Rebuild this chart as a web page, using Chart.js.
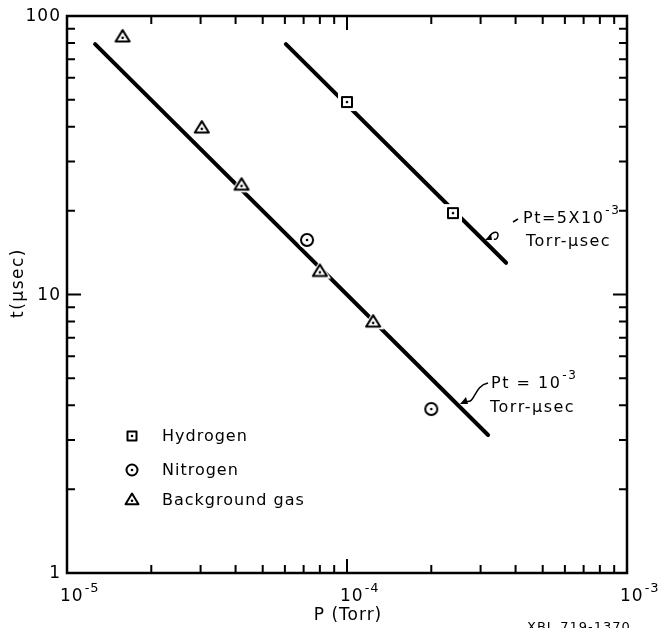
<!DOCTYPE html>
<html>
<head>
<meta charset="utf-8">
<script src="https://cdn.jsdelivr.net/npm/chart.js@4"></script>
<style>
  html, body { margin: 0; padding: 0; background: #fff; }
  #wrap { width: 664px; height: 628px; }
</style>
</head>
<body>
<div id="wrap"><canvas id="chart" width="664" height="628"></canvas></div>
<script>
// values: P in Torr, t in microseconds
const hydrogenP = [1.0e-4, 2.39e-4];
const hydrogenT = [49.1, 19.6];
const nitrogenP = [7.2e-5, 2.0e-4];
const nitrogenT = [15.7, 3.88];
const backgroundP = [1.58e-5, 3.03e-5, 4.2e-5, 8.0e-5, 1.24e-4];
const backgroundT = [84.1, 39.6, 24.7, 12.1, 7.96];

// the two Pt = const lines (end points)
const lineLowP = [1.26e-5, 3.19e-4];
const lineLowT = [79.3, 3.13];
const lineHighP = [6.05e-5, 3.7e-4];
const lineHighT = [79.3, 13.0];

const xTickValues = [1e-5, 1e-4, 1e-3];
const xTickLabels = [['10', '-5'], ['10', '-4'], ['10', '-3']];
const yTickValues = [1, 10, 100];
const yTickLabels = ['1', '10', '100'];
const seriesNames = ['Hydrogen', 'Nitrogen', 'Background gas'];

const FONT = '"DejaVu Sans", sans-serif';

function pts(xs, ys) {
    return xs.map((x, i) => ({ x: x, y: ys[i] }));
}

// marker pictures: white halo (cuts the line like the drawing does), outline, centre dot
function makeMarker(kind, s, halo) {
    const c = document.createElement('canvas');
    c.width = c.height = 26;
    const g = c.getContext('2d');
    const m = 13;
    g.fillStyle = '#fff';
    g.strokeStyle = '#000';
    g.lineWidth = 2;
    g.lineJoin = 'round';
    if (kind === 'square') {
        const hs = s / 2 + halo;
        g.fillRect(m - hs, m - hs, hs * 2, hs * 2);
        g.strokeRect(m - s / 2, m - s / 2, s, s);
    } else if (kind === 'circle') {
        g.beginPath(); g.arc(m, m, s / 2 + halo, 0, Math.PI * 2); g.fill();
        g.beginPath(); g.arc(m, m, s / 2, 0, Math.PI * 2); g.stroke();
    } else {
        const w = s, h = s * 0.82;
        const tri = (k) => {
            g.beginPath();
            g.moveTo(m, m - h * 0.6 * k);
            g.lineTo(m - w / 2 * k, m + h * 0.4 * k);
            g.lineTo(m + w / 2 * k, m + h * 0.4 * k);
            g.closePath();
        };
        tri(1 + halo / 5); g.fill();
        tri(1); g.stroke();
    }
    g.fillStyle = '#000';
    g.beginPath();
    g.arc(m, kind === 'triangle' ? m + s * 0.06 : m, 1.3, 0, Math.PI * 2);
    g.fill();
    return c;
}

const markSquare = makeMarker('square', 10, 4);
const markCircle = makeMarker('circle', 12, 3);
const markTriangle = makeMarker('triangle', 14, 3);
const legendMarks = [makeMarker('square', 9, 0), makeMarker('circle', 11, 0), makeMarker('triangle', 13, 0)];

function logTicks(min, max) {
    const out = [];
    for (let e = Math.floor(Math.log10(min)); e <= Math.ceil(Math.log10(max)); e++) {
        for (let k = 1; k <= 9; k++) {
            const v = k * Math.pow(10, e);
            if (v >= min * 0.999 && v <= max * 1.001) out.push({ v: v, major: k === 1 });
        }
    }
    return out;
}

function withSpacing(ctx, sp) {
    if ('letterSpacing' in ctx) ctx.letterSpacing = sp;
}

// text with a raised exponent
function supText(ctx, base, sup, x, y, size, supSize, rise) {
    ctx.font = size + 'px ' + FONT;
    ctx.textAlign = 'left';
    ctx.textBaseline = 'alphabetic';
    ctx.fillText(base, x, y);
    const w = ctx.measureText(base).width;
    ctx.font = supSize + 'px ' + FONT;
    ctx.fillText(sup, x + w + 1, y - rise);
}

const decorations = {
    id: 'decorations',
    afterDraw(chart) {
        const ctx = chart.ctx;
        const a = chart.chartArea;
        const xs = chart.scales.x, ys = chart.scales.y;
        ctx.save();
        ctx.strokeStyle = '#000';
        ctx.fillStyle = '#000';

        // frame
        ctx.lineWidth = 2.5;
        ctx.strokeRect(a.left, a.top, a.right - a.left, a.bottom - a.top);

        // inward ticks on all four sides
        ctx.lineWidth = 2;
        ctx.beginPath();
        logTicks(xs.min, xs.max).forEach(t => {
            const px = xs.getPixelForValue(t.v);
            const len = t.major ? 14 : 8;
            ctx.moveTo(px, a.bottom); ctx.lineTo(px, a.bottom - len);
            ctx.moveTo(px, a.top); ctx.lineTo(px, a.top + len);
        });
        logTicks(ys.min, ys.max).forEach(t => {
            const py = ys.getPixelForValue(t.v);
            const len = t.major ? 14 : 8;
            ctx.moveTo(a.left, py); ctx.lineTo(a.left + len, py);
            ctx.moveTo(a.right, py); ctx.lineTo(a.right - len, py);
        });
        ctx.stroke();

        withSpacing(ctx, '1px');

        // x tick labels
        xTickValues.forEach((v, i) => {
            const px = xs.getPixelForValue(v);
            supText(ctx, xTickLabels[i][0], xTickLabels[i][1], px - 7, 601, 17, 13, 9);
        });

        // y tick labels
        ctx.font = '17px ' + FONT;
        ctx.textAlign = 'right';
        ctx.textBaseline = 'middle';
        yTickValues.forEach((v, i) => {
            ctx.fillText(yTickLabels[i], a.left - 6, ys.getPixelForValue(v) + 1);
        });

        // axis titles
        ctx.textAlign = 'center';
        ctx.fillText('P (Torr)', 348, 616);
        ctx.save();
        ctx.translate(19, 283);
        ctx.rotate(-Math.PI / 2);
        withSpacing(ctx, '1.5px');
        ctx.fillText('t(\u03bcsec)', 0, 0);
        ctx.restore();

        // legend inside the plot
        ctx.font = '16px ' + FONT;
        ctx.textAlign = 'left';
        ctx.textBaseline = 'middle';
        const rows = [436, 470, 500];
        seriesNames.forEach((name, i) => {
            const img = legendMarks[i];
            ctx.drawImage(img, 132 - img.width / 2, rows[i] - img.height / 2);
            ctx.fillText(name, 162, rows[i] + 1);
        });

        // line annotations
        withSpacing(ctx, '1.5px');
        supText(ctx, 'Pt=5X10', '-3', 523, 223, 16, 12, 9);
        ctx.font = '16px ' + FONT;
        ctx.textBaseline = 'alphabetic';
        ctx.fillText('Torr-\u03bcsec', 526, 246);
        supText(ctx, 'Pt = 10', '-3', 491, 388, 16, 12, 9);
        ctx.font = '16px ' + FONT;
        ctx.fillText('Torr-\u03bcsec', 490, 412);

        // leader squiggles with small arrowheads
        ctx.lineWidth = 1.5;
        ctx.beginPath();
        ctx.moveTo(489, 237);
        ctx.bezierCurveTo(493, 231, 498, 231, 498, 235);
        ctx.bezierCurveTo(498, 238, 496, 240, 494, 239);
        ctx.moveTo(513, 222); ctx.lineTo(518, 219);
        ctx.moveTo(465, 401);
        ctx.bezierCurveTo(476, 405, 473, 386, 488, 383);
        ctx.stroke();
        [[485, 240, 491, 234, 492, 240], [460, 404, 466, 397, 468, 404]].forEach(p => {
            ctx.beginPath();
            ctx.moveTo(p[0], p[1]); ctx.lineTo(p[2], p[3]); ctx.lineTo(p[4], p[5]);
            ctx.closePath(); ctx.fill();
        });

        // drawing number, cut by the page edge
        withSpacing(ctx, '1px');
        ctx.font = '13px ' + FONT;
        ctx.textBaseline = 'top';
        ctx.fillText('XBL 719-1370', 527, 621);
        ctx.restore();
    }
};

const lineStyle = {
    showLine: true, pointRadius: 0, borderColor: '#000', borderWidth: 4,
    borderCapStyle: 'round', fill: false
};

new Chart(document.getElementById('chart'), {
    type: 'scatter',
    data: {
        datasets: [
            { label: seriesNames[0], data: pts(hydrogenP, hydrogenT), pointStyle: markSquare, pointRadius: 6 },
            { label: seriesNames[1], data: pts(nitrogenP, nitrogenT), pointStyle: markCircle, pointRadius: 6 },
            { label: seriesNames[2], data: pts(backgroundP, backgroundT), pointStyle: markTriangle, pointRadius: 7 },
            Object.assign({ label: 'Pt=5e-3', data: pts(lineHighP, lineHighT) }, lineStyle),
            Object.assign({ label: 'Pt=1e-3', data: pts(lineLowP, lineLowT) }, lineStyle)
        ]
    },
    options: {
        responsive: false,
        animation: false,
        layout: { padding: { top: 16, right: 37, left: 0, bottom: 0 } },
        plugins: { legend: { display: false }, tooltip: { enabled: false } },
        scales: {
            x: {
                type: 'logarithmic', min: 1e-5, max: 1e-3,
                ticks: { display: false }, grid: { display: false }, border: { display: false },
                afterFit: s => { s.height = 55; }
            },
            y: {
                type: 'logarithmic', min: 1, max: 100,
                ticks: { display: false }, grid: { display: false }, border: { display: false },
                afterFit: s => { s.width = 67; }
            }
        }
    },
    plugins: [decorations]
});
</script>
</body>
</html>
